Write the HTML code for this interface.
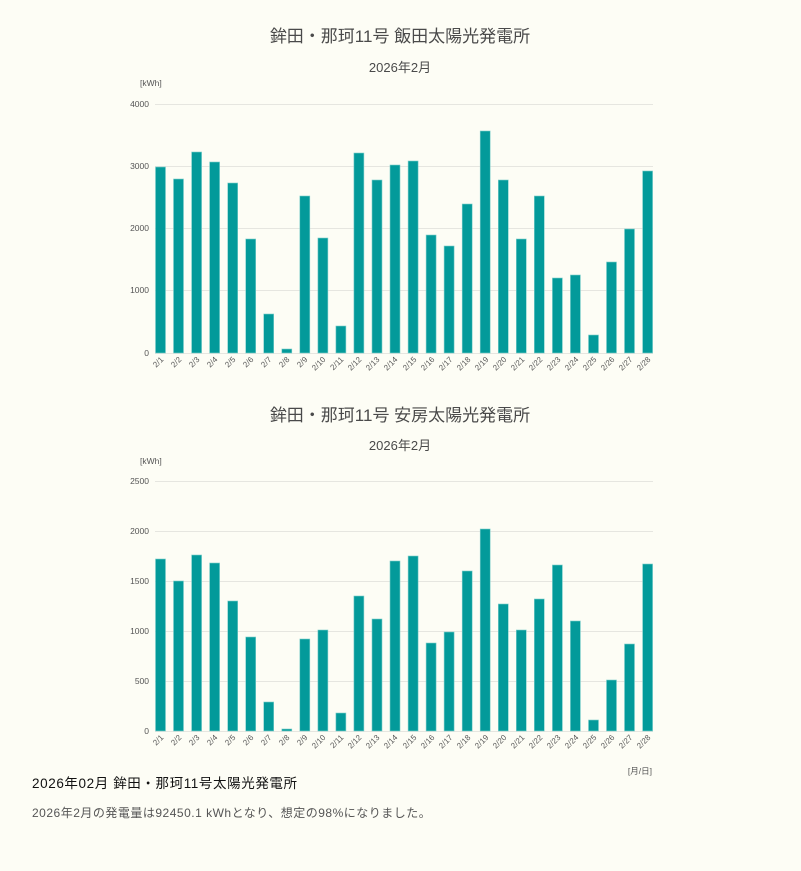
<!DOCTYPE html>
<html><head><meta charset="utf-8"><style>
html,body{margin:0;padding:0;background:#fdfdf5;}
body{width:801px;height:871px;overflow:hidden;font-family:"Liberation Sans","Noto Sans CJK JP",sans-serif;}
svg{display:block}
</style></head><body>
<svg width="801" height="871" viewBox="0 0 801 871" font-family="Liberation Sans, Noto Sans CJK JP, sans-serif">
<rect width="801" height="871" fill="#fdfdf5"/>
<!-- Chart 1 -->
<text x="400" y="42" text-anchor="middle" font-size="17" fill="#4a4a4a">鉾田・那珂11号 飯田太陽光発電所</text>
<text x="400" y="72" text-anchor="middle" font-size="13" fill="#4a4a4a">2026年2月</text>
<text x="140" y="86" font-size="8.5" fill="#555">[kWh]</text>
<g stroke="#e6e6e0" stroke-width="1">
<line x1="155" x2="653" y1="104.5" y2="104.5"/><line x1="155" x2="653" y1="166.5" y2="166.5"/><line x1="155" x2="653" y1="228.5" y2="228.5"/><line x1="155" x2="653" y1="290.5" y2="290.5"/><line x1="155" x2="653" y1="353.5" y2="353.5"/>
</g>
<g font-size="8.5" fill="#555" text-anchor="end">
<text x="149" y="107">4000</text><text x="149" y="169">3000</text><text x="149" y="231">2000</text><text x="149" y="293">1000</text><text x="149" y="356">0</text>
</g>
<g fill="#039a9a" stroke="#7fcfcc" stroke-width="0.6">
<rect x="155.5" y="167" width="10" height="186"/>
<rect x="173.5" y="179" width="10" height="174"/>
<rect x="191.6" y="152" width="10" height="201"/>
<rect x="209.6" y="162" width="10" height="191"/>
<rect x="227.7" y="183" width="10" height="170"/>
<rect x="245.7" y="239" width="10" height="114"/>
<rect x="263.7" y="314" width="10" height="39"/>
<rect x="281.8" y="349" width="10" height="4"/>
<rect x="299.8" y="196" width="10" height="157"/>
<rect x="317.9" y="238" width="10" height="115"/>
<rect x="335.9" y="326" width="10" height="27"/>
<rect x="353.9" y="153" width="10" height="200"/>
<rect x="372" y="180" width="10" height="173"/>
<rect x="390" y="165" width="10" height="188"/>
<rect x="408.1" y="161" width="10" height="192"/>
<rect x="426.1" y="235" width="10" height="118"/>
<rect x="444.1" y="246" width="10" height="107"/>
<rect x="462.2" y="204" width="10" height="149"/>
<rect x="480.2" y="131" width="10" height="222"/>
<rect x="498.3" y="180" width="10" height="173"/>
<rect x="516.3" y="239" width="10" height="114"/>
<rect x="534.3" y="196" width="10" height="157"/>
<rect x="552.4" y="278" width="10" height="75"/>
<rect x="570.4" y="275" width="10" height="78"/>
<rect x="588.5" y="335" width="10" height="18"/>
<rect x="606.5" y="262" width="10" height="91"/>
<rect x="624.5" y="229" width="10" height="124"/>
<rect x="642.6" y="171" width="10" height="182"/>
</g>
<g font-size="8" fill="#555" text-anchor="end">
<text transform="translate(164,360) rotate(-45)">2/1</text>
<text transform="translate(182,360) rotate(-45)">2/2</text>
<text transform="translate(200,360) rotate(-45)">2/3</text>
<text transform="translate(218,360) rotate(-45)">2/4</text>
<text transform="translate(236,360) rotate(-45)">2/5</text>
<text transform="translate(254,360) rotate(-45)">2/6</text>
<text transform="translate(272,360) rotate(-45)">2/7</text>
<text transform="translate(290,360) rotate(-45)">2/8</text>
<text transform="translate(308,360) rotate(-45)">2/9</text>
<text transform="translate(326,360) rotate(-45)">2/10</text>
<text transform="translate(344,360) rotate(-45)">2/11</text>
<text transform="translate(362,360) rotate(-45)">2/12</text>
<text transform="translate(380,360) rotate(-45)">2/13</text>
<text transform="translate(398,360) rotate(-45)">2/14</text>
<text transform="translate(417,360) rotate(-45)">2/15</text>
<text transform="translate(435,360) rotate(-45)">2/16</text>
<text transform="translate(453,360) rotate(-45)">2/17</text>
<text transform="translate(471,360) rotate(-45)">2/18</text>
<text transform="translate(489,360) rotate(-45)">2/19</text>
<text transform="translate(507,360) rotate(-45)">2/20</text>
<text transform="translate(525,360) rotate(-45)">2/21</text>
<text transform="translate(543,360) rotate(-45)">2/22</text>
<text transform="translate(561,360) rotate(-45)">2/23</text>
<text transform="translate(579,360) rotate(-45)">2/24</text>
<text transform="translate(597,360) rotate(-45)">2/25</text>
<text transform="translate(615,360) rotate(-45)">2/26</text>
<text transform="translate(633,360) rotate(-45)">2/27</text>
<text transform="translate(651,360) rotate(-45)">2/28</text>
</g>
<!-- Chart 2 -->
<text x="400" y="421" text-anchor="middle" font-size="17" fill="#4a4a4a">鉾田・那珂11号 安房太陽光発電所</text>
<text x="400" y="450" text-anchor="middle" font-size="13" fill="#4a4a4a">2026年2月</text>
<text x="140" y="464" font-size="8.5" fill="#555">[kWh]</text>
<g stroke="#e6e6e0" stroke-width="1">
<line x1="155" x2="653" y1="481.5" y2="481.5"/><line x1="155" x2="653" y1="531.5" y2="531.5"/><line x1="155" x2="653" y1="581.5" y2="581.5"/><line x1="155" x2="653" y1="631.5" y2="631.5"/><line x1="155" x2="653" y1="681.5" y2="681.5"/><line x1="155" x2="653" y1="731.5" y2="731.5"/>
</g>
<g font-size="8.5" fill="#555" text-anchor="end">
<text x="149" y="484">2500</text><text x="149" y="534">2000</text><text x="149" y="584">1500</text><text x="149" y="634">1000</text><text x="149" y="684">500</text><text x="149" y="734">0</text>
</g>
<g fill="#039a9a" stroke="#7fcfcc" stroke-width="0.6">
<rect x="155.5" y="559" width="10" height="172"/>
<rect x="173.5" y="581" width="10" height="150"/>
<rect x="191.6" y="555" width="10" height="176"/>
<rect x="209.6" y="563" width="10" height="168"/>
<rect x="227.7" y="601" width="10" height="130"/>
<rect x="245.7" y="637" width="10" height="94"/>
<rect x="263.7" y="702" width="10" height="29"/>
<rect x="281.8" y="729" width="10" height="2"/>
<rect x="299.8" y="639" width="10" height="92"/>
<rect x="317.9" y="630" width="10" height="101"/>
<rect x="335.9" y="713" width="10" height="18"/>
<rect x="353.9" y="596" width="10" height="135"/>
<rect x="372" y="619" width="10" height="112"/>
<rect x="390" y="561" width="10" height="170"/>
<rect x="408.1" y="556" width="10" height="175"/>
<rect x="426.1" y="643" width="10" height="88"/>
<rect x="444.1" y="632" width="10" height="99"/>
<rect x="462.2" y="571" width="10" height="160"/>
<rect x="480.2" y="529" width="10" height="202"/>
<rect x="498.3" y="604" width="10" height="127"/>
<rect x="516.3" y="630" width="10" height="101"/>
<rect x="534.3" y="599" width="10" height="132"/>
<rect x="552.4" y="565" width="10" height="166"/>
<rect x="570.4" y="621" width="10" height="110"/>
<rect x="588.5" y="720" width="10" height="11"/>
<rect x="606.5" y="680" width="10" height="51"/>
<rect x="624.5" y="644" width="10" height="87"/>
<rect x="642.6" y="564" width="10" height="167"/>
</g>
<g font-size="8" fill="#555" text-anchor="end">
<text transform="translate(164,738) rotate(-45)">2/1</text>
<text transform="translate(182,738) rotate(-45)">2/2</text>
<text transform="translate(200,738) rotate(-45)">2/3</text>
<text transform="translate(218,738) rotate(-45)">2/4</text>
<text transform="translate(236,738) rotate(-45)">2/5</text>
<text transform="translate(254,738) rotate(-45)">2/6</text>
<text transform="translate(272,738) rotate(-45)">2/7</text>
<text transform="translate(290,738) rotate(-45)">2/8</text>
<text transform="translate(308,738) rotate(-45)">2/9</text>
<text transform="translate(326,738) rotate(-45)">2/10</text>
<text transform="translate(344,738) rotate(-45)">2/11</text>
<text transform="translate(362,738) rotate(-45)">2/12</text>
<text transform="translate(380,738) rotate(-45)">2/13</text>
<text transform="translate(398,738) rotate(-45)">2/14</text>
<text transform="translate(417,738) rotate(-45)">2/15</text>
<text transform="translate(435,738) rotate(-45)">2/16</text>
<text transform="translate(453,738) rotate(-45)">2/17</text>
<text transform="translate(471,738) rotate(-45)">2/18</text>
<text transform="translate(489,738) rotate(-45)">2/19</text>
<text transform="translate(507,738) rotate(-45)">2/20</text>
<text transform="translate(525,738) rotate(-45)">2/21</text>
<text transform="translate(543,738) rotate(-45)">2/22</text>
<text transform="translate(561,738) rotate(-45)">2/23</text>
<text transform="translate(579,738) rotate(-45)">2/24</text>
<text transform="translate(597,738) rotate(-45)">2/25</text>
<text transform="translate(615,738) rotate(-45)">2/26</text>
<text transform="translate(633,738) rotate(-45)">2/27</text>
<text transform="translate(651,738) rotate(-45)">2/28</text>
</g>
<text x="652" y="774" text-anchor="end" font-size="8.5" fill="#555">[月/日]</text>
<text x="32" y="788" font-size="13.5" fill="#111" letter-spacing="0.6">2026年02月 鉾田・那珂11号太陽光発電所</text>
<text x="32" y="817" font-size="12" fill="#555" letter-spacing="0.5">2026年2月の発電量は92450.1 kWhとなり、想定の98%になりました。</text>
</svg>
</body></html>
